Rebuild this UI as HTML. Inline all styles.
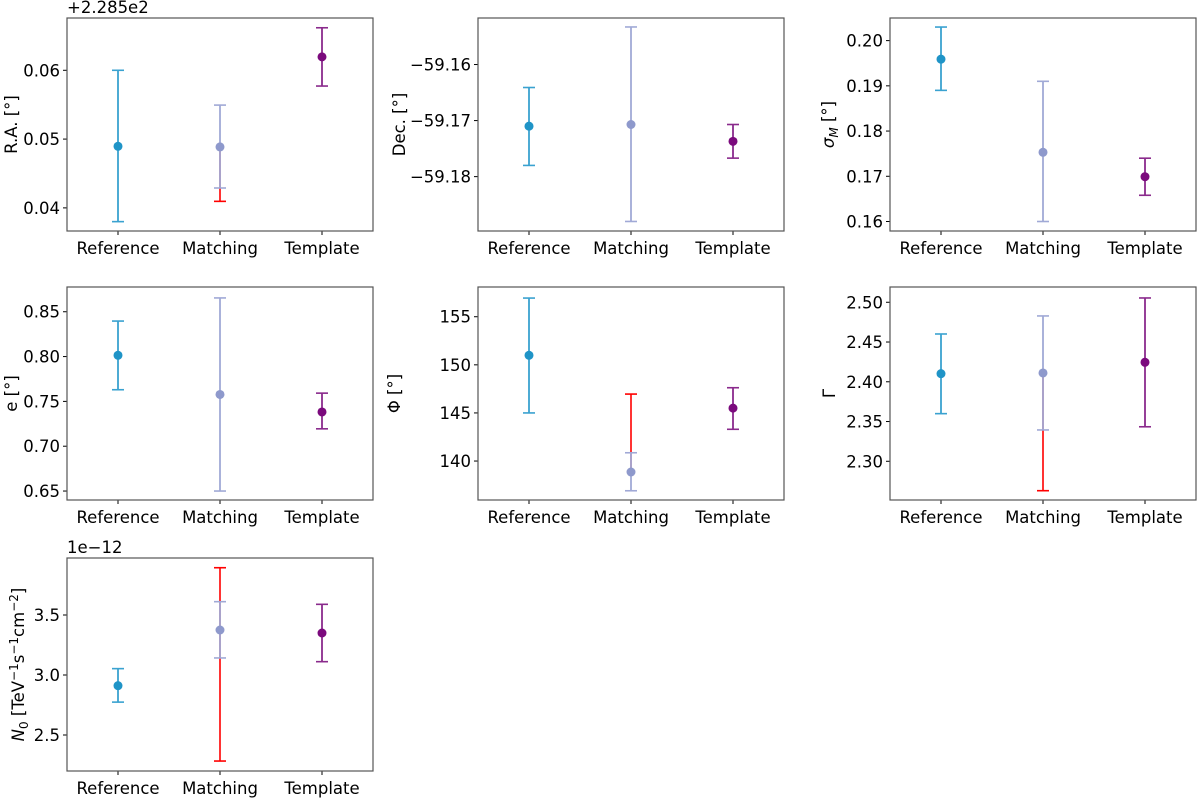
<!DOCTYPE html>
<html><head><meta charset="utf-8"><style>
html,body{margin:0;padding:0;background:#fff}
svg{display:block;font-family:"DejaVu Sans","Liberation Sans",sans-serif}
</style></head><body>
<svg id="fig" width="1200" height="798" viewBox="0 0 1200 798" xmlns="http://www.w3.org/2000/svg"></svg>
<script>
const categories = ["Reference","Matching","Template"];
const raCenter = [0.04895, 0.04886, 0.06195];
const raLow = [0.0380, 0.04289, 0.05771];
const raHigh = [0.0600, 0.05494, 0.06618];
const raRed = [null, [0.04095, 0.04886], null];
const raTicks = [0.04, 0.05, 0.06];
const raTickLabels = ["0.04","0.05","0.06"];

const decCenter = [-59.1710, -59.1707, -59.1737];
const decLow = [-59.1780, -59.1880, -59.1767];
const decHigh = [-59.1641, -59.1533, -59.1707];
const decRed = [null, null, null];
const decTicks = [-59.18, -59.17, -59.16];
const decTickLabels = ["\u221259.18","\u221259.17","\u221259.16"];

const sigCenter = [0.1959, 0.1753, 0.1699];
const sigLow = [0.189, 0.160, 0.1658];
const sigHigh = [0.203, 0.191, 0.174];
const sigRed = [null, null, null];
const sigTicks = [0.16, 0.17, 0.18, 0.19, 0.20];
const sigTickLabels = ["0.16","0.17","0.18","0.19","0.20"];

const eCenter = [0.8014, 0.7577, 0.7382];
const eLow = [0.7630, 0.650, 0.7194];
const eHigh = [0.8396, 0.8654, 0.7592];
const eRed = [null, null, null];
const eTicks = [0.65, 0.70, 0.75, 0.80, 0.85];
const eTickLabels = ["0.65","0.70","0.75","0.80","0.85"];

const phiCenter = [150.99, 138.86, 145.5];
const phiLow = [145.0, 136.91, 143.3];
const phiHigh = [156.94, 140.86, 147.62];
const phiRed = [null, [138.86, 146.96], null];
const phiTicks = [140, 145, 150, 155];
const phiTickLabels = ["140","145","150","155"];

const gamCenter = [2.4102, 2.4111, 2.4245];
const gamLow = [2.3599, 2.3394, 2.3434];
const gamHigh = [2.4601, 2.4828, 2.5054];
const gamRed = [null, [2.2630, 2.4111], null];
const gamTicks = [2.30, 2.35, 2.40, 2.45, 2.50];
const gamTickLabels = ["2.30","2.35","2.40","2.45","2.50"];

const nCenter = [2.911, 3.375, 3.35];
const nLow = [2.774, 3.142, 3.111];
const nHigh = [3.053, 3.611, 3.589];
const nRed = [null, [2.283, 3.894], null];
const nTicks = [2.5, 3.0, 3.5];
const nTickLabels = ["2.5","3.0","3.5"];

const colors = ["#1f94c7","#8e99cc","#7b0a7d"];
const barColors = ["#3aa2d0","#a0a9d6","#8a2a8c"];

const panels = [
 {name:"ra-panel",x:67,y:18,ymin:0.03664,ymax:0.0676,c:raCenter,lo:raLow,hi:raHigh,red:raRed,ticks:raTicks,tl:raTickLabels,label:"R.A. [°]",lx:12,offset:"+2.285e2"},
 {name:"dec-panel",x:478,y:18,ymin:-59.1897,ymax:-59.1517,c:decCenter,lo:decLow,hi:decHigh,red:decRed,ticks:decTicks,tl:decTickLabels,label:"Dec. [°]",lx:400},
 {name:"sigma-panel",x:890,y:18,ymin:0.1579,ymax:0.2050,c:sigCenter,lo:sigLow,hi:sigHigh,red:sigRed,ticks:sigTicks,tl:sigTickLabels,label:"<tspan font-style='italic'>σ</tspan><tspan font-style='italic' font-size='12' dy='4'>M</tspan><tspan dy='-4'> [°]</tspan>",lx:829},
 {name:"e-panel",x:67,y:287,ymin:0.64,ymax:0.8776,c:eCenter,lo:eLow,hi:eHigh,red:eRed,ticks:eTicks,tl:eTickLabels,label:"e [°]",lx:12},
 {name:"phi-panel",x:478,y:287,ymin:135.95,ymax:158.09,c:phiCenter,lo:phiLow,hi:phiHigh,red:phiRed,ticks:phiTicks,tl:phiTickLabels,label:"Φ [°]",lx:395},
 {name:"gamma-panel",x:890,y:287,ymin:2.2513,ymax:2.5192,c:gamCenter,lo:gamLow,hi:gamHigh,red:gamRed,ticks:gamTicks,tl:gamTickLabels,label:"Γ",lx:830},
 {name:"n0-panel",x:67,y:558,ymin:2.2,ymax:3.975,c:nCenter,lo:nLow,hi:nHigh,red:nRed,ticks:nTicks,tl:nTickLabels,label:"<tspan font-style='italic'>N</tspan><tspan font-size='12' dy='4'>0</tspan><tspan dy='-4'> [TeV</tspan><tspan font-size='12' dy='-6'>−1</tspan><tspan dy='6'>s</tspan><tspan font-size='12' dy='-6'>−1</tspan><tspan dy='6'>cm</tspan><tspan font-size='12' dy='-6'>−2</tspan><tspan dy='6'>]</tspan>",lx:19,offset:"1e\u221212"}
];
const W=306,H=213,FS=16.5;
const NS="http://www.w3.org/2000/svg";
const fig=document.getElementById('fig');
function mk(tag,attrs,parent){const e=document.createElementNS(NS,tag);for(const k in attrs)e.setAttribute(k,attrs[k]);parent.appendChild(e);return e;}
panels.forEach(p=>{
  const g=mk('g',{},fig);
  
  
  const xs=i=>p.x+(i+0.5)/3*W;
  const ys=v=>p.y+H-(v-p.ymin)/(p.ymax-p.ymin)*H;
  p.ticks.forEach((t,i)=>{
    const y=ys(t);
    mk('line',{x1:p.x-4,x2:p.x,y1:y,y2:y,stroke:'#000','stroke-width':1},g);
    const tx=mk('text',{x:p.x-7,y:y+6,'text-anchor':'end','font-size':FS,fill:'#000'},g);
    tx.textContent=p.tl[i];
    
    
  });
  categories.forEach((c,i)=>{
    const x=xs(i);
    mk('line',{x1:x,x2:x,y1:p.y+H,y2:p.y+H+4,stroke:'#000','stroke-width':1},g);
    const tx=mk('text',{x:x,y:p.y+H+23,'text-anchor':'middle','font-size':FS,fill:'#000'},g);
    tx.textContent=c;
    
    
  });
  const cy=p.y+H/2;
  const lab=mk('text',{x:0,y:0,'text-anchor':'middle','font-size':FS,fill:'#000',transform:`translate(${p.lx+5},${cy}) rotate(-90)`},g);
  lab.innerHTML=p.label;
  
  
  if(p.offset){
    const o=mk('text',{x:p.x,y:p.y-5,'font-size':FS,fill:'#000'},g);
    o.textContent=p.offset;
    
    
  }
  categories.forEach((c,i)=>{
    const x=xs(i);
    const s=mk('g',{},g);
    
    
    if(p.red[i]){
      const r=p.red[i];
      mk('line',{x1:x,x2:x,y1:ys(r[0]),y2:ys(r[1]),stroke:'#ff0000','stroke-width':1.6},s);
      [r[0],r[1]].forEach(v=>{ if(v!==p.c[i]) mk('line',{x1:x-6,x2:x+6,y1:ys(v),y2:ys(v),stroke:'#ff0000','stroke-width':1.6},s);});
    }
    mk('line',{x1:x,x2:x,y1:ys(p.lo[i]),y2:ys(p.hi[i]),stroke:barColors[i],'stroke-width':1.8},s);
    [p.lo[i],p.hi[i]].forEach(v=>mk('line',{x1:x-6,x2:x+6,y1:ys(v),y2:ys(v),stroke:barColors[i],'stroke-width':1.6},s));
    const dot=mk('circle',{cx:x,cy:ys(p.c[i]),r:4.5,fill:colors[i]},s);
    
    
  });
  const fr=mk('rect',{x:p.x,y:p.y,width:W,height:H,fill:'none',stroke:'#555','stroke-width':1.2},g);
  
  
});
</script>
</body></html>
